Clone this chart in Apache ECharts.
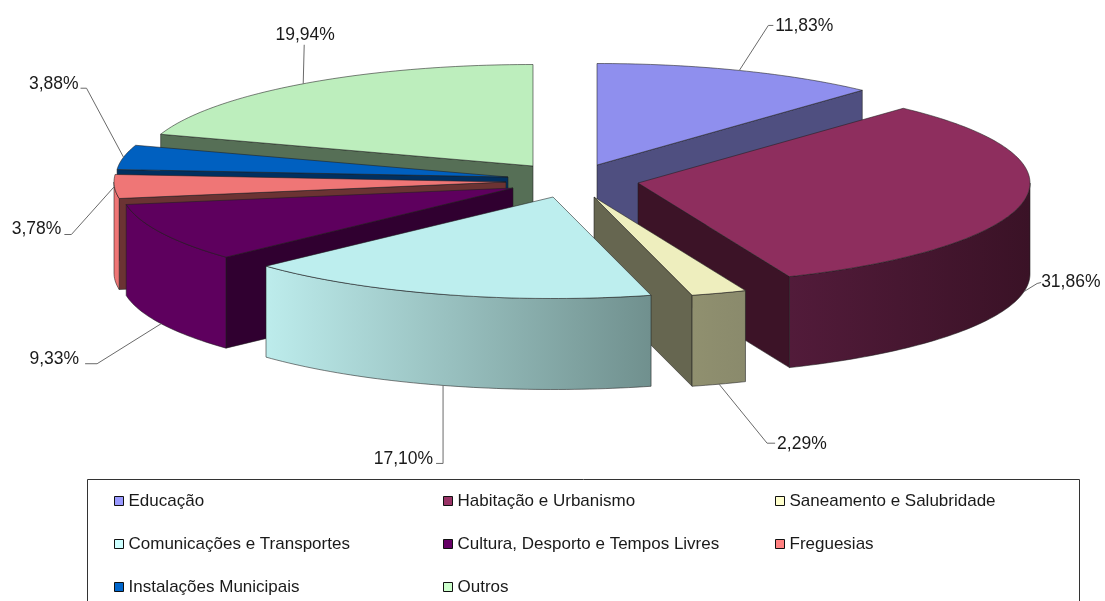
<!DOCTYPE html>
<html>
<head>
<meta charset="utf-8">
<style>html,body{margin:0;padding:0;background:#fff;overflow:hidden}#c{width:1105px;height:601px}</style>
<script src="https://cdn.jsdelivr.net/npm/echarts@6/dist/echarts.min.js"></script>
</head>
<body>
<div id="c"></div>
<script>
// ---- data ----
const categories = ['Educação','Habitação e Urbanismo','Saneamento e Salubridade','Comunicações e Transportes','Cultura, Desporto e Tempos Livres','Freguesias','Instalações Municipais','Outros'];
const values = [11.83,31.86,2.29,17.10,9.33,3.78,3.88,19.94];
// ---- colours ----
const legendColors = ['#9999ff','#993366','#ffffcc','#ccffff','#660066','#ff8080','#0066cc','#ccffcc'];
const topColors = ['#8f8fee','#8e2e5e','#eeeebe','#bdeeee','#5e005e','#ef7676','#0060c0','#bdeebd'];
const sideColors = ['#4f4f80','#3c1327','#666650','#66807f','#300030','#6b3333','#003060','#566f56'];
const outerStart = ['#4f4f80','#521b3a','#90906f','#bdecec','#5e005e','#ef7676','#0060c0','#bdeebd'];
const outerEnd = ['#4f4f80','#3a1226','#8a8a6c','#70908e','#5e005e','#ef7676','#0060c0','#bdeebd'];
// ---- layout ----
const pieCenter = [570,180], rx = 392, ry = 101.5, depth = 91;
const explode = [[27,-15],[68,3],[24,17],[-17,17],[-57,8],[-64,2],[-62,-3],[-37,-14]];
const drawOrder = [7,6,5,4,0,1,2,3];
const leaderElbow = [[29,-45],[13,-8],[48,59],[0,78],[-64,40],[-43,48],[-37,-69],[1,-39]];
const leaderEnd = [[34,-45],[17,-9],[56,59],[-7,78],[-76,40],[-50,48],[-43,-69],[1,-39]];
const labelGap = [[2,1],[0,0],[2,1],[-3,-4],[-6,-5],[-3,-5],[-2,-4],[1,-10]];
const labelAlign = ['left','left','left','right','right','right','right','center'];
const labelFont = 17.5, legendFont = 17, fontFamily = '"Liberation Sans",Arial,sans-serif';
const legendColumns = [[0,3,6],[1,4,7],[2,5]], legendLeft = [114,443,775], legendTop = 492, legendGap = 25;

const total = values.reduce((a,b)=>a+b,0);
const starts = []; values.reduce((a,v,i)=>{starts[i]=a;return a+v;},0);
const rad = v => v/total*Math.PI*2;

function renderSlice(params){
  const i = drawOrder[params.seriesIndex];
  const c = [pieCenter[0]+explode[i][0], pieCenter[1]+explode[i][1]];
  const a0 = rad(starts[i]), a1 = rad(starts[i]+values[i]);
  const pt = (a,d)=>[c[0]+rx*Math.sin(a), c[1]-ry*Math.cos(a)+(d||0)];
  const stroke = 'rgba(30,30,30,0.7)';
  const base = {stroke, lineWidth:0.8, lineJoin:'round'};
  const arc = (p,q,d)=>{const out=[];const n=Math.max(2,Math.ceil((q-p)/0.02));for(let k=0;k<=n;k++)out.push(pt(p+(q-p)*k/n,d));return out;};
  const children = [];
  const apexB = [c[0],c[1]+depth];
  const radial = a => ({type:'polygon',shape:{points:[c,pt(a),pt(a,depth),apexB]},style:Object.assign({fill:sideColors[i]},base)});
  if (Math.sin(a0) < 0) children.push(radial(a0));
  if (Math.sin(a1) > 0) children.push(radial(a1));
  const f0 = Math.max(a0,Math.PI/2), f1 = Math.min(a1,Math.PI*1.5);
  if (f1 > f0){
    const pts = arc(f0,f1,0).concat(arc(f0,f1,depth).reverse());
    children.push({type:'polygon',shape:{points:pts},style:Object.assign({
      fill:{type:'linear',x:0,y:0,x2:1,y2:0,colorStops:[{offset:0,color:outerStart[i]},{offset:1,color:outerEnd[i]}]}
    },base)});
  }
  children.push({type:'polygon',shape:{points:[c].concat(arc(a0,a1,0))},style:Object.assign({fill:topColors[i]},base)});
  // leader line and label
  const mid = (a0+a1)/2;
  const s = pt(mid, Math.cos(mid) < -0.1 ? depth : 0);
  const el = [s[0]+leaderElbow[i][0], s[1]+leaderElbow[i][1]];
  const en = [s[0]+leaderEnd[i][0], s[1]+leaderEnd[i][1]];
  children.push({type:'polyline',shape:{points:[s,el,en]},style:{stroke:'#6a6a6a',lineWidth:1,fill:null}});
  children.push({type:'text',style:{
    text:values[i].toFixed(2).replace('.',',')+'%',
    x:en[0]+labelGap[i][0], y:en[1]+labelGap[i][1],
    align:labelAlign[i], verticalAlign:'middle',
    fontSize:labelFont, fontFamily, fill:'#1a1a1a'
  }});
  return {type:'group',children};
}

const series = drawOrder.map(i=>({
  type:'custom', name:categories[i], coordinateSystem:'none',
  data:[values[i]], renderItem:renderSlice, silent:true, animation:false,
  itemStyle:{color:legendColors[i]}
}));
const legends = legendColumns.map((col,k)=>({
  left:legendLeft[k], top:legendTop, orient:'vertical', padding:0, itemGap:legendGap,
  itemWidth:9, itemHeight:9, icon:'rect', selectedMode:false,
  itemStyle:{borderColor:'#111',borderWidth:1},
  textStyle:{fontSize:legendFont,fontFamily,color:'#1a1a1a',padding:[0,0,0,0],lineHeight:18},
  data:col.map(i=>categories[i])
}));
const chart = echarts.init(document.getElementById('c'),null,{renderer:'canvas'});
chart.setOption({
  backgroundColor:'#fff', animation:false,
  legend:legends,
  graphic:[{type:'rect',z:-1,shape:{x:87.5,y:479.5,width:992,height:140},style:{fill:'#fff',stroke:'#333',lineWidth:1}}],
  series
});
</script>
</body>
</html>
